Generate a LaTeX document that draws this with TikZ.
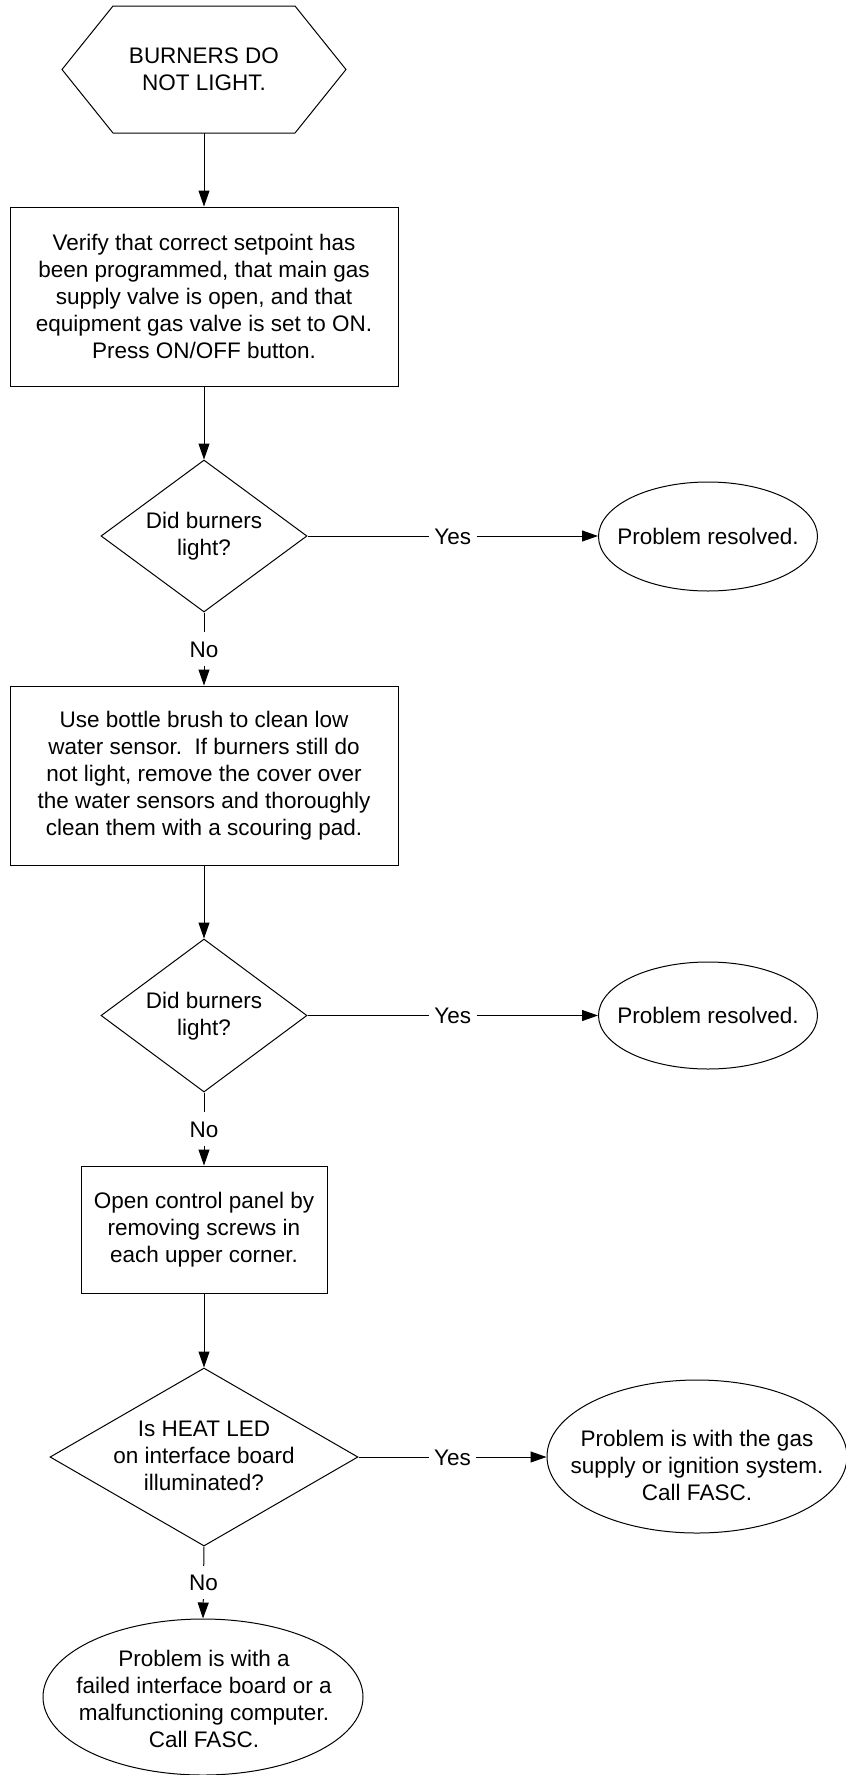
\documentclass[tikz,border=0pt]{standalone}
\usepackage{fontspec}
\setmainfont{Liberation Sans}
\usetikzlibrary{shapes.geometric,arrows.meta}
\begin{document}
\begin{tikzpicture}[x=1pt,y=-1pt,
  every node/.style={font=\fontsize{22.5}{27}\selectfont},
  ln/.style={draw=black, line width=1pt},
  box/.style={ln, rectangle, inner sep=0pt, align=center},
  dia/.style={ln, diamond, inner sep=0pt},
  ell/.style={ln, ellipse, inner sep=0pt},
  txt/.style={align=center, inner sep=0pt},
  arr/.style={ln, -{Triangle[length=16pt,width=11pt]}},
  lab/.style={fill=white, inner xsep=5.5pt, inner ysep=8.5pt, text height=16.5pt, text depth=0pt}
]
\useasboundingbox (0,0) rectangle (846,1775);

% start hexagon
\node[txt] (start) at (204,69.5) {BURNERS DO\\NOT LIGHT.};
\draw[ln] (113,6) -- (295,6) -- (346,69.5) -- (295,133) -- (113,133) -- (62,69.5) -- cycle;
\coordinate (startb) at (204,133);

% step 1
\node[box, minimum width=388pt, minimum height=179pt] (r1) at (204,296.5)
  {Verify that correct setpoint has\\been programmed, that main gas\\supply valve is open, and that\\equipment gas valve is set to ON.\\Press ON/OFF button.};

% decision 1
\node[dia, minimum width=206pt, minimum height=152pt] (d1) at (204,536) {};
\node[txt] (d1t) at (204,536.5) {Did burners\\light?};
\node[ell, minimum width=219pt, minimum height=109pt] (e1) at (708,536.5) {};
\node[txt] (e1t) at (708,536.5) {Problem resolved.};

% step 2
\node[box, minimum width=388pt, minimum height=179pt] (r2) at (204,775.5)
  {Use bottle brush to clean low\\water sensor.\ \ If burners still do\\not light, remove the cover over\\the water sensors and thoroughly\\clean them with a scouring pad.};

% decision 2
\node[dia, minimum width=206pt, minimum height=153pt] (d2) at (204,1015.5) {};
\node[txt] (d2t) at (204,1016) {Did burners\\light?};
\node[ell, minimum width=219pt, minimum height=107pt] (e2) at (708,1015.5) {};
\node[txt] (e2t) at (708,1015.5) {Problem resolved.};

% step 3
\node[box, minimum width=246pt, minimum height=127pt] (r3) at (204,1229.5)
  {Open control panel by\\removing screws in\\each upper corner.};

% decision 3
\node[dia, minimum width=308pt, minimum height=178pt] (d3) at (204,1457) {};
\node[txt] (d3t) at (204,1456) {Is HEAT LED\\on interface board\\illuminated?};
\node[ell, minimum width=300pt, minimum height=153pt] (e3) at (697,1456.5) {};
\node[txt] (e3t) at (697,1465) {Problem is with the gas\\supply or ignition system.\\Call FASC.};

% final
\node[ell, minimum width=320pt, minimum height=156pt] (e4) at (203,1697) {};
\node[txt] (e4t) at (204,1699) {Problem is with a\\failed interface board or a\\malfunctioning computer.\\Call FASC.};

% connectors
\draw[arr] (startb) -- (r1.north);
\draw[arr] (r1.south) -- (d1.north);
\draw[arr] (d1.east) -- node[lab] {Yes} (d1.east -| e1.west);
\draw[arr] (d1.south) -- node[lab] {No} (r2.north);
\draw[arr] (r2.south) -- (d2.north);
\draw[arr] (d2.east) -- node[lab] {Yes} (d2.east -| e2.west);
\draw[arr] (d2.south) -- node[lab] {No} (r3.north);
\draw[arr] (r3.south) -- (d3.north);
\draw[arr] (d3.east) -- node[lab] {Yes} (d3.east -| e3.west);
\draw[arr] (d3.south) -- node[lab] {No} (e4.north);
\end{tikzpicture}
\end{document}
